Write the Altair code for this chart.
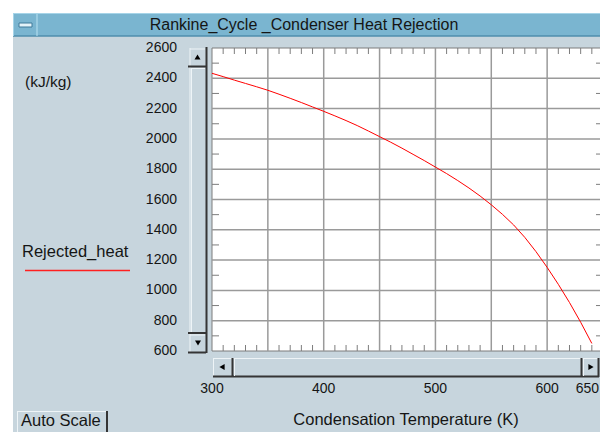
import altair as alt
import pandas as pd

# ---- data ----
temperature = [300, 310, 320, 330, 340, 350, 360, 370, 380, 390, 400, 410, 420, 430,
               440, 450, 460, 470, 480, 490, 500, 510, 520, 530, 540, 550, 560, 570,
               580, 590, 600, 610, 620, 630, 640]
rejected_heat = [2433, 2411, 2388, 2366, 2344, 2321, 2295, 2268, 2240, 2211, 2182, 2152,
                 2121, 2088, 2052, 2015, 1978, 1939, 1898, 1857, 1814, 1771, 1725, 1676,
                 1623, 1565, 1502, 1432, 1350, 1256, 1152, 1040, 920, 790, 650]

x_labels = [300, 400, 500, 600]
x_last_label = [650]
y_labels = [600, 800, 1000, 1200, 1400, 1600, 1800, 2000, 2200, 2400, 2600]
x_grid = [350, 400, 450, 500, 550, 600]
y_grid = [800, 1000, 1200, 1400, 1600, 1800, 2000, 2200, 2400]
x_minor = [310, 320, 330, 340, 360, 370, 380, 390, 410, 420, 430, 440, 460, 470, 480,
           490, 510, 520, 530, 540, 560, 570, 580, 590, 610, 620, 630, 640]
y_minor = [700, 900, 1100, 1300, 1500, 1700, 1900, 2100, 2300, 2500]

# ---- layout ----
OX, OY = 212, 48          # page position of plot origin
SVG_W, SVG_H = 592, 424   # whole drawing (page area inside the 8px margin)
PW = 391                  # plot width as in the reference
VW = SVG_W - (OX - 8)     # visible part of the plot inside the drawing
H = 303
FONT = "Liberation Sans"
BG = "#c7d5dd"
LIGHT = "#eef4f7"
DARK = "#353535"
TXT = "#151515"

xs = alt.Scale(domain=[300, 650], range=[0, PW], nice=False, zero=False)
ys = alt.Scale(domain=[600, 2600], nice=False, zero=False)

one = pd.DataFrame({"a": [0]})


def rect(x1, y1, x2, y2, fill, stroke=None, sw=1):
    kw = dict(fill=fill)
    if stroke:
        kw.update(stroke=stroke, strokeWidth=sw)
    else:
        kw.update(strokeWidth=0)
    return alt.Chart(one).mark_rect(**kw).encode(
        x=alt.value(x1 - OX), x2=alt.value(x2 - OX),
        y=alt.value(y1 - OY), y2=alt.value(y2 - OY))


def hline(x1, x2, y, color, w=1):
    return alt.Chart(one).mark_rule(color=color, strokeWidth=w).encode(
        x=alt.value(x1 - OX), x2=alt.value(x2 - OX), y=alt.value(y - OY))


def vline(x, y1, y2, color, w=1):
    return alt.Chart(one).mark_rule(color=color, strokeWidth=w).encode(
        x=alt.value(x - OX), y=alt.value(y1 - OY), y2=alt.value(y2 - OY))


def text(s, x, y, size, align="left"):
    return alt.Chart(one).mark_text(text=s, font=FONT, fontSize=size, color=TXT,
                                    align=align, baseline="middle").encode(
        x=alt.value(x - OX), y=alt.value(y - OY))


def tri(shape, x, y, size=36):
    return alt.Chart(one).mark_point(shape=shape, filled=True, color="#000000",
                                     size=size, opacity=1).encode(
        x=alt.value(x - OX), y=alt.value(y - OY))


layers = []

# white margin strips outside the window
layers.append(rect(0, 0, 620, 13, "#ffffff"))
layers.append(rect(0, 0, 13, 460, "#ffffff"))

# title bar
layers.append(rect(13, 13, 620, 36, "#7ab5d0"))
layers.append(hline(13, 620, 13.5, "#a6d4e8"))
layers.append(hline(13, 620, 36, "#4f8eac", 1.5))
layers.append(vline(13.5, 13, 36, "#a6d4e8"))
layers.append(vline(37, 14, 36, "#b8e2f2"))
layers.append(rect(19, 23, 32, 27, "#e4f3f9", "#3f7b9a", 1))
layers.append(text("Rankine_Cycle _Condenser Heat Rejection", 304, 24.5, 16, "center"))

# plot background
layers.append(rect(OX, OY, OX + PW, OY + H, "#ffffff", "#7d7d7d", 1))

# grid lines
gx = pd.DataFrame({"t": x_grid})
gy = pd.DataFrame({"q": y_grid})
layers.append(alt.Chart(gx).mark_rule(color="#9a9a9a", strokeWidth=1.5).encode(
    x=alt.X("t:Q", scale=xs, axis=None), y=alt.value(0), y2=alt.value(H)))
layers.append(alt.Chart(gy).mark_rule(color="#9a9a9a", strokeWidth=1.5).encode(
    y=alt.Y("q:Q", scale=ys, axis=None), x=alt.value(0), x2=alt.value(PW)))

# minor ticks
mx = pd.DataFrame({"t": x_minor})
my = pd.DataFrame({"q": y_minor})
for (a, b) in [(0, 6), (H - 6, H)]:
    layers.append(alt.Chart(mx).mark_rule(color="#7d7d7d", strokeWidth=1).encode(
        x=alt.X("t:Q", scale=xs, axis=None), y=alt.value(a), y2=alt.value(b)))
for (a, b) in [(0, 7), (PW - 7, PW)]:
    layers.append(alt.Chart(my).mark_rule(color="#7d7d7d", strokeWidth=1).encode(
        y=alt.Y("q:Q", scale=ys, axis=None), x=alt.value(a), x2=alt.value(b)))

# data line
df = pd.DataFrame({"T": temperature, "Q": rejected_heat})
layers.append(alt.Chart(df).mark_line(color="#ff0000", strokeWidth=1).encode(
    x=alt.X("T:Q", scale=xs, axis=None),
    y=alt.Y("Q:Q", scale=ys, axis=None)))

# tick labels
lx = pd.DataFrame({"t": x_labels})
lx2 = pd.DataFrame({"t": x_last_label})
ly = pd.DataFrame({"q": y_labels})
layers.append(alt.Chart(lx).mark_text(font=FONT, fontSize=14, color=TXT, align="center",
                                      baseline="middle").encode(
    x=alt.X("t:Q", scale=xs, axis=None), y=alt.value(388.5 - OY), text="t:Q"))
# the last label sits at the right edge of the drawing: keep it whole
layers.append(alt.Chart(lx2).mark_text(font=FONT, fontSize=14, color=TXT, align="right",
                                       baseline="middle").encode(
    x=alt.value(SVG_W + 8 - 1 - OX), y=alt.value(388.5 - OY), text="t:Q"))
layers.append(alt.Chart(ly).mark_text(font=FONT, fontSize=14, color=TXT, align="right",
                                      baseline="middle").encode(
    y=alt.Y("q:Q", scale=ys, axis=None), x=alt.value(177 - OX), text="q:Q"))

# vertical scrollbar
layers.append(vline(190, 48, 352, LIGHT))
layers.append(vline(206.5, 47, 353, DARK, 2))
layers.append(hline(190, 205, 49, LIGHT))
layers.append(hline(188, 206, 66.5, DARK, 2))
layers.append(hline(191, 205, 68.5, LIGHT))
layers.append(vline(191.5, 68, 332, LIGHT))
layers.append(hline(188, 206, 333, DARK, 2))
layers.append(hline(190, 205, 335, LIGHT))
layers.append(hline(188, 206, 352.5, DARK, 2))
layers.append(tri("triangle-up", 197.5, 57))
layers.append(tri("triangle-down", 198, 343))

# horizontal scrollbar
layers.append(hline(213, 598, 358.5, LIGHT))
layers.append(vline(213.5, 358, 377, LIGHT))
layers.append(hline(213, 599, 376.5, DARK, 2))
layers.append(vline(232.5, 358, 377, DARK, 2))
layers.append(vline(234.5, 359, 376, LIGHT))
layers.append(vline(581.5, 358, 377, DARK, 2))
layers.append(vline(583.5, 359, 376, LIGHT))
layers.append(vline(598.5, 358, 377, DARK, 2))
layers.append(tri("triangle-left", 222, 367))
layers.append(tri("triangle-right", 591, 367))

# side texts / legend
layers.append(text("(kJ/kg)", 25, 82, 15.5))
layers.append(text("Rejected_heat", 22, 252, 16.5))
layers.append(hline(25, 130, 270.5, "#ff2020", 1.5))
layers.append(text("Condensation Temperature (K)", 406, 420, 16.5, "center"))

# Auto Scale button
layers.append(hline(17, 107, 411.5, LIGHT))
layers.append(vline(17.5, 411, 432, LIGHT))
layers.append(vline(107, 411, 432, DARK, 2))
layers.append(text("Auto Scale", 21, 420.5, 16.5))

chart = alt.layer(*layers).properties(
    width=VW, height=H,
    padding={"left": OX - 8, "top": OY - 8, "right": 0, "bottom": SVG_H - (OY - 8) - H},
    autosize=alt.AutoSizeParams(type="none"),
).configure(background=BG).configure_view(stroke=None)

chart.save("out.html", embed_options={"renderer": "svg", "actions": False})
